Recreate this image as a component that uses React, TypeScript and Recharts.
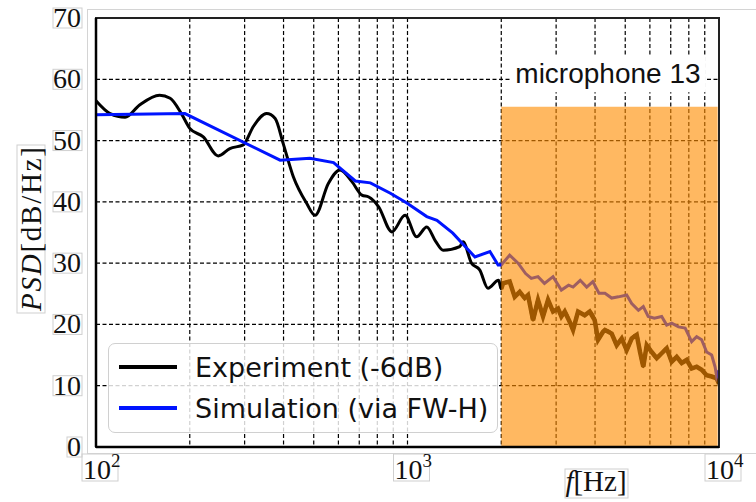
import React from 'react';
import { LineChart, Line, XAxis, YAxis, CartesianGrid, ReferenceArea } from 'recharts';

// experiment (-6dB)
const expFreq = [100, 111, 124, 138, 160, 173, 188, 200, 221, 247, 269, 297, 320, 353, 376, 399, 430, 474, 505, 557, 607, 663, 714, 751, 808, 891, 982, 1070, 1153, 1230, 1302, 1471, 1507, 1605, 1705, 1813, 1960, 2000, 2026, 2128, 2209, 2292, 2378, 2437, 2529, 2624, 2723, 2826, 2932, 3043, 3118, 3197, 3318, 3400, 3528, 3705, 3844, 3989, 4090, 4244, 4304, 4523, 4695, 4871, 5054, 5245, 5443, 5578, 5714, 5861, 6081, 6310, 6547, 6793, 7049, 7314, 7590, 7874, 8170, 8477, 8796, 9127, 9474, 9830, 10000];
const expPsd = [56.5, 54.4, 53.8, 55.8, 57.4, 56.9, 54.4, 52.0, 50.6, 47.5, 48.7, 49.3, 52.3, 54.4, 53.6, 49.5, 44.1, 39.8, 37.8, 43.0, 45.2, 43.3, 41.1, 40.8, 39.2, 35.1, 37.8, 34.3, 35.9, 33.6, 32.1, 32.7, 33.5, 30.0, 28.9, 25.9, 27.2, 25.8, 26.7, 27.0, 24.5, 25.3, 24.3, 24.8, 20.7, 24.0, 21.3, 24.0, 22.1, 22.6, 21.3, 22.1, 20.4, 19.1, 22.1, 21.5, 22.1, 20.7, 17.5, 18.8, 19.1, 18.5, 16.6, 17.7, 15.8, 17.7, 18.3, 15.5, 13.1, 16.6, 15.5, 14.5, 15.3, 16.1, 13.9, 14.7, 13.7, 14.2, 12.8, 13.1, 12.6, 11.7, 11.5, 11.2, 10.3];

// simulation (via FW-H)
const simFreq = [100, 193, 390, 486, 579, 680, 760, 881, 995, 1153, 1243, 1398, 1646, 1839, 1954, 2000, 2128, 2265, 2394, 2497, 2624, 2752, 2932, 3118, 3290, 3400, 3585, 3760, 3935, 4118, 4304, 4523, 4755, 5054, 5245, 5512, 5714, 5926, 6200, 6547, 6793, 7049, 7412, 7787, 8170, 8477, 8796, 9127, 9474, 9713, 9830, 10000];
const simPsd = [54.2, 54.4, 46.8, 47.1, 46.4, 43.4, 43.1, 41.4, 39.8, 37.6, 37.0, 34.9, 31.0, 31.9, 29.7, 29.7, 31.3, 30.0, 28.3, 27.5, 27.8, 26.7, 27.8, 25.6, 26.4, 26.1, 27.2, 26.1, 27.0, 25.1, 25.1, 24.3, 24.5, 24.8, 23.4, 22.3, 22.9, 21.3, 21.0, 21.3, 19.9, 20.2, 19.6, 19.4, 17.2, 18.0, 17.5, 15.5, 15.0, 13.1, 11.5, 12.5];

const xTicks = [100, 200, 300, 400, 500, 600, 700, 800, 900, 1000, 2000, 3000, 4000, 5000, 6000, 7000, 8000, 9000, 10000];
const yTicks = [0, 10, 20, 30, 40, 50, 60, 70];

const legendItems = [
  { name: 'Experiment (-6dB)', color: '#000000' },
  { name: 'Simulation (via FW-H)', color: '#0014ff' },
];

const expData = expFreq.map((f, i) => ({ f, psd: expPsd[i] }));
const expHigh = expData.filter(d => d.f >= 2000);
const simData = simFreq.map((f, i) => ({ f, psd: simPsd[i] }));

const SERIF = '"Liberation Serif", "DejaVu Serif", serif';
const BOX = '#cfcfcf';

function XTick(props: any) {
  const { x, payload } = props;
  const v = payload.value;
  const e = Math.round(Math.log10(v));
  if (Math.abs(Math.pow(10, e) - v) > 1e-6) return <g />;
  return (
    <g>
      <rect x={x - 14} y={454} width={36} height={27} fill="none" stroke={BOX} />
      <text x={x - 13} y={479} fontFamily={SERIF} fontSize={28} fill="#111">
        10<tspan dy={-12} fontSize={19}>{e}</tspan>
      </text>
    </g>
  );
}

function YTick(props: any) {
  const { y, payload } = props;
  const w = String(payload.value).length * 14;
  return (
    <g>
      <rect x={82 - w - 1} y={y - 10} width={w + 1} height={20} fill="none" stroke={BOX} />
      <text x={81} y={y + 9} textAnchor="end" fontFamily={SERIF} fontSize={28} fill="#111">
        {payload.value}
      </text>
    </g>
  );
}

function YLabel() {
  return (
    <g>
      <rect x={17} y={145} width={28} height={168} fill="none" stroke={BOX} />
      <text
        transform="translate(41, 229) rotate(-90)"
        textAnchor="middle"
        fontFamily={SERIF}
        fontSize={29}
        fill="#111"
        textLength={164}
      >
        <tspan fontStyle="italic">PSD</tspan>[dB/Hz]
      </text>
    </g>
  );
}

function XLabel() {
  return (
    <g>
      <rect x={565} y={469} width={63} height={29} fill="none" stroke={BOX} />
      <text x={596} y={491} textAnchor="middle" fontFamily={SERIF} fontSize={29} fill="#111">
        <tspan fontStyle="italic">f</tspan>[Hz]
      </text>
    </g>
  );
}

function MicLabel(props: any) {
  const { viewBox } = props;
  const cx = viewBox.x + viewBox.width / 2;
  return (
    <text
      x={cx}
      y={viewBox.y + 28}
      textAnchor="middle"
      fontFamily='"Liberation Sans", Arial, sans-serif'
      fontSize={28}
      fill="#111"
    >
      microphone 13
    </text>
  );
}

export default function App() {
  return (
    <div style={{ position: 'absolute', left: 0, top: 0, width: 756, height: 502, background: '#fff' }}>
      <div
        style={{
          position: 'absolute',
          left: 87,
          top: 9,
          width: 680,
          height: 443,
          border: '1px solid #d4d4d4',
        }}
      />
      <LineChart
        width={756}
        height={502}
        margin={{ top: 18, right: 37, bottom: 0, left: 0 }}
        style={{ position: 'absolute', left: 0, top: 0 }}
      >
        <CartesianGrid stroke="#000" strokeWidth={1.2} strokeDasharray="4 2.5" />
        <XAxis
          type="number"
          dataKey="f"
          scale="log"
          domain={[100, 10000]}
          allowDataOverflow
          ticks={xTicks}
          interval={0}
          height={55}
          tickLine={false}
          axisLine={{ stroke: '#000', strokeWidth: 2.5 }}
          tick={<XTick />}
          label={<XLabel />}
        />
        <YAxis
          type="number"
          domain={[0, 70]}
          ticks={yTicks}
          interval={0}
          width={96}
          tickLine={false}
          axisLine={{ stroke: '#000', strokeWidth: 2.5 }}
          tick={<YTick />}
          label={<YLabel />}
        />
        <Line
          data={expData}
          dataKey="psd"
          type="monotone"
          stroke="#000"
          strokeWidth={3}
          dot={false}
          isAnimationActive={false}
        />
        <Line
          data={expHigh}
          dataKey="psd"
          type="linear"
          stroke="#000"
          strokeWidth={4.5}
          dot={false}
          isAnimationActive={false}
        />
        <Line
          data={simData}
          dataKey="psd"
          type="linear"
          stroke="#0014ff"
          strokeWidth={3}
          dot={false}
          isAnimationActive={false}
        />
        <ReferenceArea
          x1={2000}
          x2={9900}
          y1={0}
          y2={55.5}
          fill="#ff8c00"
          fillOpacity={0.62}
          stroke="none"
          ifOverflow="visible"
          zIndex={450}
        />
        <ReferenceArea
          x1={2133}
          x2={9078}
          y1={57.9}
          y2={63.95}
          fill="#fff"
          fillOpacity={1}
          stroke="none"
          zIndex={460}
          label={<MicLabel />}
        />
        <ReferenceArea
          x1={100}
          x2={10000}
          y1={0}
          y2={70}
          fill="none"
          stroke="#222"
          strokeWidth={2}
          zIndex={470}
        />
      </LineChart>
      <div
        style={{
          position: 'absolute',
          left: 108,
          top: 343,
          width: 388,
          height: 88,
          border: '1px solid #d0d0d0',
          borderRadius: 7,
          background: 'rgba(255,255,255,0.82)',
          fontFamily: '"DejaVu Sans", sans-serif',
          fontSize: 27,
          color: '#111',
        }}
      >
        {legendItems.map((it, i) => (
          <div
            key={it.name}
            style={{ position: 'absolute', left: 10, top: 4 + i * 41, height: 38, display: 'flex', alignItems: 'center' }}
          >
            <span style={{ display: 'inline-block', width: 58, height: 3.5, background: it.color, marginRight: 18 }} />
            <span style={{ whiteSpace: 'nowrap' }}>{it.name}</span>
          </div>
        ))}
      </div>
    </div>
  );
}
